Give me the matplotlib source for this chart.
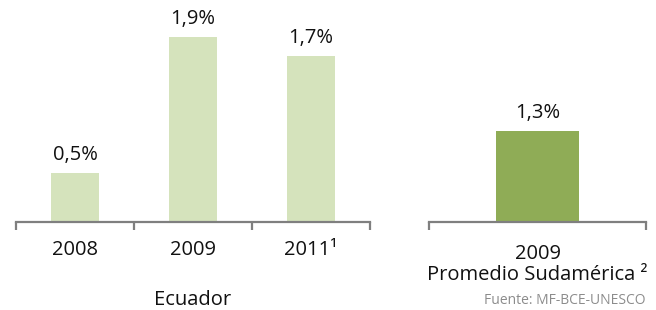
import matplotlib
matplotlib.use("Agg")
import matplotlib.pyplot as plt

plt.rcParams['font.family'] = ['Open Sans', 'DejaVu Sans']

# Ecuador values (%)
ecu_years = ['2008', '2009', '2011\u00b9']
ecu_values = [0.5, 1.9, 1.7]
ecu_labels = ['0,5%', '1,9%', '1,7%']

# South America average
sud_years = ['2009\nPromedio Sudamérica \u00b2']
sud_values = [1.3]
sud_labels = ['1,3%']

light_green = '#d5e3bc'
dark_green = '#8fac56'
axis_grey = '#7f7f7f'
text_col = '#111111'
fs = 14.5

fig = plt.figure(figsize=(6.56, 3.10), dpi=100)

def style_axis(ax, n):
    ax.set_xlim(-0.5, n - 0.5)
    for s in ['left', 'right', 'top']:
        ax.spines[s].set_visible(False)
    ax.spines['bottom'].set_color(axis_grey)
    ax.spines['bottom'].set_linewidth(1.6)
    ax.set_yticks([])
    ax.set_xticks([i - 0.5 for i in range(n + 1)])
    ax.set_xticklabels([])
    ax.tick_params(axis='x', direction='out', length=6, width=1.6, color=axis_grey)
    ax.patch.set_visible(False)

# left panel: Ecuador
ax1 = fig.add_axes([16 / 656, 88 / 310, 354 / 656, 222 / 310])
style_axis(ax1, len(ecu_values))
ax1.set_ylim(0, 2.28)
x1 = list(range(len(ecu_values)))
ax1.bar(x1, ecu_values, width=0.41, color=light_green)
for x, v, lab in zip(x1, ecu_values, ecu_labels):
    ax1.annotate(lab, xy=(x, v), xytext=(0, 6), textcoords='offset points',
                 ha='center', va='bottom', fontsize=fs, color=text_col)
for x, lab in zip(x1, ecu_years):
    ax1.annotate(lab, xy=(x, 0), xycoords=('data', 'axes fraction'),
                 xytext=(0, -13), textcoords='offset points',
                 ha='center', va='top', fontsize=fs, color=text_col)
ax1.annotate('Ecuador', xy=(1, 0), xycoords=('data', 'axes fraction'),
             xytext=(0, -49), textcoords='offset points',
             ha='center', va='top', fontsize=fs, color=text_col)

# right panel: Promedio Sudamérica
ax2 = fig.add_axes([429 / 656, 88 / 310, 217 / 656, 222 / 310])
style_axis(ax2, len(sud_values))
ax2.set_ylim(0, 3.17)
x2 = list(range(len(sud_values)))
ax2.bar(x2, sud_values, width=0.38, color=dark_green)
for x, v, lab in zip(x2, sud_values, sud_labels):
    ax2.annotate(lab, xy=(x, v), xytext=(0, 6), textcoords='offset points',
                 ha='center', va='bottom', fontsize=fs, color=text_col)
for x, lab in zip(x2, sud_years):
    ax2.annotate(lab, xy=(x, 0), xycoords=('data', 'axes fraction'),
                 xytext=(0, -16), textcoords='offset points',
                 ha='center', va='top', fontsize=fs, color=text_col,
                 linespacing=1.05)

fig.text(645 / 656, 1 - 300 / 310, 'Fuente: MF-BCE-UNESCO', ha='right', va='center',
         fontsize=10, color='#8c8c8c')

fig.savefig('out.png', dpi=100)
